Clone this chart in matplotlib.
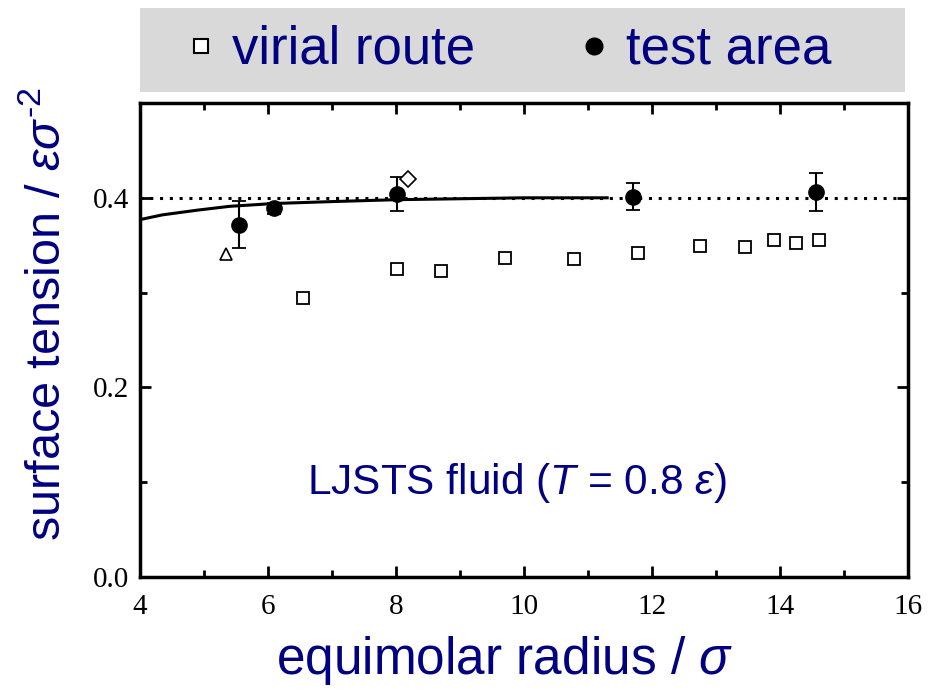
import matplotlib.pyplot as plt
from matplotlib.patches import Rectangle
from matplotlib.ticker import MultipleLocator

plt.rcParams['font.family'] = ['Liberation Sans', 'DejaVu Sans']
plt.rcParams['mathtext.fontset'] = 'custom'
plt.rcParams['mathtext.rm'] = 'Liberation Sans'
plt.rcParams['mathtext.it'] = 'Liberation Sans:italic'

navy = '#000080'

# virial route (open squares)
virial_r = [6.55, 8.02, 8.70, 9.70, 10.78, 11.78, 12.75, 13.45, 13.91, 14.25, 14.61]
virial_g = [0.294, 0.325, 0.323, 0.336, 0.335, 0.342, 0.349, 0.348, 0.356, 0.352, 0.355]

# test area (filled circles with error bars)
test_r = [5.55, 6.10, 8.01, 11.70, 14.56]
test_g = [0.371, 0.389, 0.404, 0.401, 0.406]
test_err_lo = [0.024, 0.006, 0.018, 0.014, 0.020]
test_err_hi = [0.026, 0.006, 0.018, 0.015, 0.020]

# other literature points
tri_r, tri_g = [5.35], [0.341]
dia_r, dia_g = [8.19], [0.420]

# fitted curve
curve_r = [4.0, 4.35, 4.9, 5.4, 6.1, 7.0, 8.0, 9.0, 10.0, 11.3]
curve_g = [0.377, 0.382, 0.387, 0.391, 0.394, 0.396, 0.398, 0.399, 0.400, 0.400]

planar_g = 0.40

fig = plt.figure(figsize=(9.3, 6.92), dpi=100)
ax = fig.add_axes([140/930, 1-577/692, 768/930, 474/692])

ax.axhline(planar_g, color='black', lw=2.2, ls=(0, (1, 2.2)))
ax.plot(curve_r, curve_g, color='black', lw=2.2)
ax.plot(virial_r, virial_g, 's', ms=8.5, mfc='white', mec='black', mew=1.3,
        ls='none', label='virial route')
ax.errorbar(test_r, test_g, yerr=[test_err_lo, test_err_hi], fmt='o', ms=11,
            color='black', ecolor='black', elinewidth=1.5, capsize=5, capthick=1.3)
ax.plot(tri_r, tri_g, '^', ms=9, mfc='white', mec='black', mew=1.2)
ax.plot(dia_r, dia_g, 'D', ms=8, mfc='white', mec='black', mew=1.2)

ax.set_xlim(4, 16)
ax.set_ylim(0, 0.5)
ax.xaxis.set_major_locator(MultipleLocator(2))
ax.xaxis.set_minor_locator(MultipleLocator(1))
ax.yaxis.set_major_locator(MultipleLocator(0.2))
ax.yaxis.set_minor_locator(MultipleLocator(0.1))
ax.tick_params(which='both', direction='in', top=True, right=True, width=2)
ax.tick_params(which='major', length=8)
ax.tick_params(which='minor', length=5)
for s in ax.spines.values():
    s.set_linewidth(2.5)
for lab in ax.get_xticklabels():
    lab.set_fontfamily('Liberation Serif')
    lab.set_fontsize(21)
ax.tick_params(axis='x', pad=12)
ax.tick_params(axis='y', pad=8)
ax.set_yticks([0.0, 0.2, 0.4])
ax.set_yticklabels(['0.0', '0.2', '0.4'], fontfamily='Liberation Serif', fontsize=21)

ax.set_xlabel('equimolar radius / $\\it{σ}$', fontsize=37, color=navy)
ax.xaxis.set_label_coords(0.475, -0.12)
ax.set_ylabel('surface tension / $\\it{εσ}^{\\text{-2}}$', fontsize=35, color=navy)
ax.yaxis.set_label_coords(-0.091, 0.555)

ax.text(9.89, 0.0995, 'LJSTS fluid ($\\it{T}$ = 0.8 $\\it{ε}$)', fontsize=30.5,
        color=navy, ha='center', va='center')

# grey legend bar above the plot
fig.patches.append(Rectangle((140/930, 1-92/692), 765/930, 84/692,
                             transform=fig.transFigure, facecolor='#d9d9d9',
                             edgecolor='none', zorder=0))
sq = plt.Line2D([], [], marker='s', ms=10, mfc='white', mec='black', mew=1.5, ls='none')
ci = plt.Line2D([], [], marker='o', ms=12, color='black', ls='none')
fig.legend([sq, ci], ['virial route', 'test area'], loc='center',
           bbox_to_anchor=(0.5463, 1-50/692), ncol=2, frameon=False,
           fontsize=38, labelcolor=navy, handletextpad=0.3,
           columnspacing=1.95, handlelength=0.6)

fig.savefig('out.png', dpi=100)
